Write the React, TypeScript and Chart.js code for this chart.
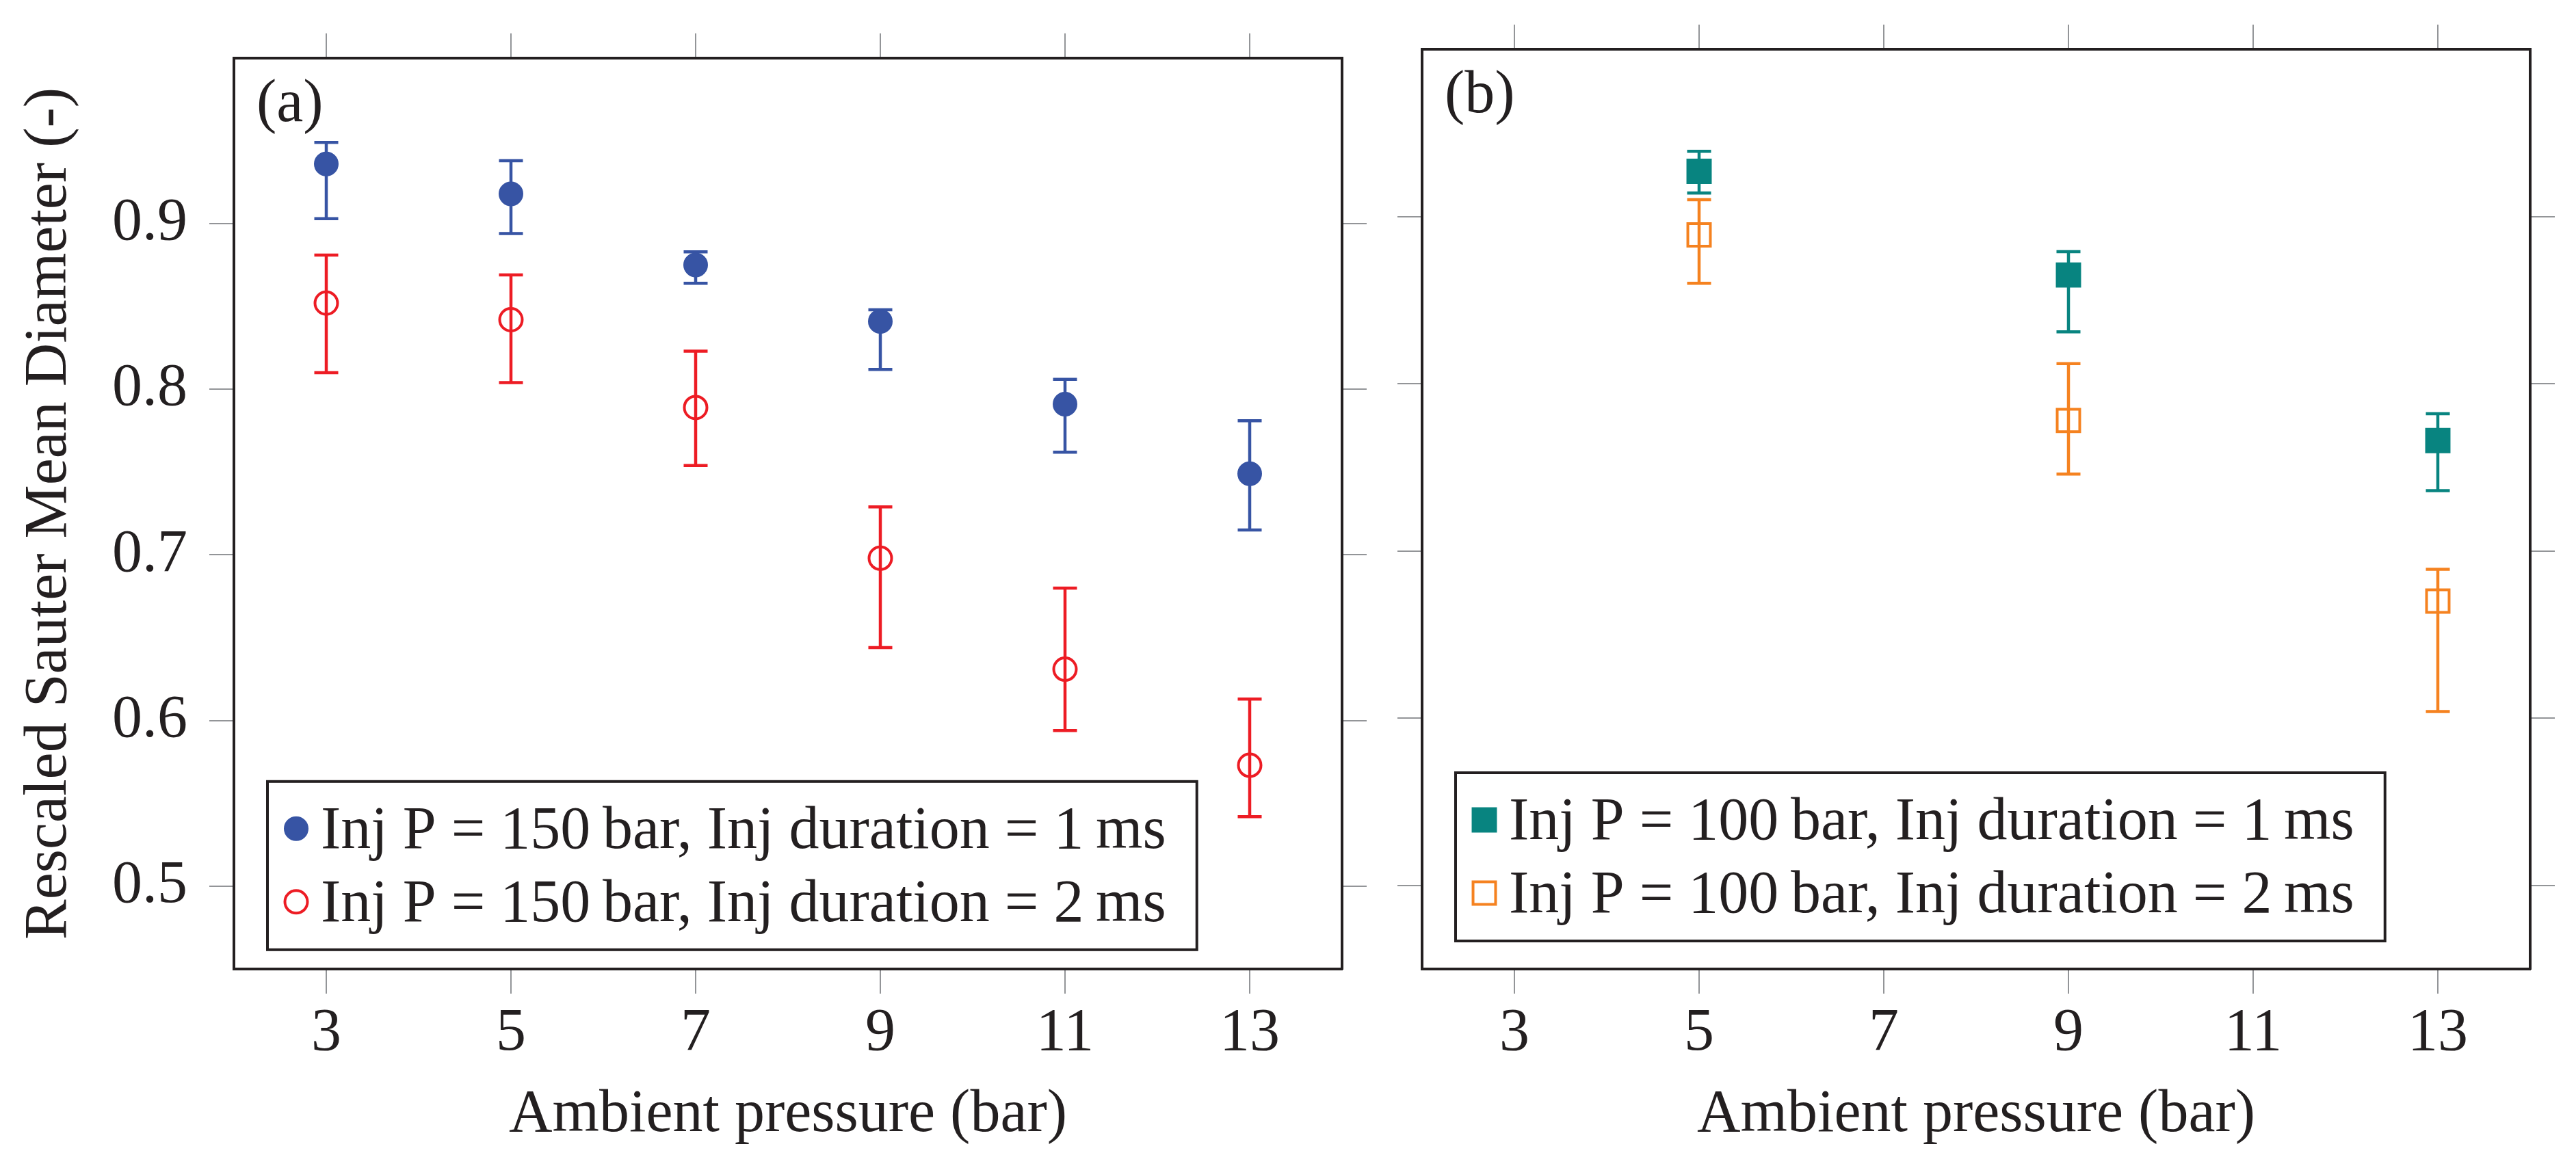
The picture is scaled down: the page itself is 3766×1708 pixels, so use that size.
import { useEffect, useRef } from 'react';
import { Chart, registerables } from 'chart.js';

Chart.register(...registerables);

// ambient pressure (bar)
const pressuresA = [3, 5, 7, 9, 11, 13];
const pressuresB = [5, 9, 13];

// panel (a): Inj P = 150 bar
const smd150_1ms = [0.936, 0.918, 0.875, 0.841, 0.791, 0.749];
const smd150_1msHi = [0.949, 0.938, 0.883, 0.848, 0.806, 0.781];
const smd150_1msLo = [0.903, 0.894, 0.864, 0.812, 0.762, 0.715];
const smd150_2ms = [0.852, 0.842, 0.789, 0.698, 0.631, 0.573];
const smd150_2msHi = [0.881, 0.869, 0.823, 0.729, 0.680, 0.613];
const smd150_2msLo = [0.810, 0.804, 0.754, 0.644, 0.594, 0.542];

// panel (b): Inj P = 100 bar
const smd100_1ms = [0.927, 0.865, 0.766];
const smd100_1msHi = [0.939, 0.879, 0.782];
const smd100_1msLo = [0.914, 0.831, 0.736];
const smd100_2ms = [0.889, 0.778, 0.670];
const smd100_2msHi = [0.910, 0.812, 0.689];
const smd100_2msLo = [0.860, 0.746, 0.604];

const xTicks = [3, 5, 7, 9, 11, 13];
const yTicks = [0.5, 0.6, 0.7, 0.8, 0.9];

const labelsA = [
  'Inj P = 150\u2009bar, Inj duration = 1\u2009ms',
  'Inj P = 150\u2009bar, Inj duration = 2\u2009ms',
];
const labelsB = [
  'Inj P = 100\u2009bar, Inj duration = 1\u2009ms',
  'Inj P = 100\u2009bar, Inj duration = 2\u2009ms',
];

const FONT = '"Liberation Serif", "DejaVu Serif", serif';
const FS = 88;
const INK = '#231f20';
const TICK = '#939598';
const BLUE = '#3754a4';
const RED = '#ed1c24';
const TEAL = '#088480';
const ORANGE = '#f58220';

const toPoints = (xs: number[], ys: number[]) => xs.map((x, i) => ({ x, y: ys[i] }));

const errorBars = {
  id: 'errorBars',
  beforeDatasetsDraw(chart: any) {
    const { ctx } = chart;
    const yScale = chart.scales.y;
    chart.data.datasets.forEach((ds: any, i: number) => {
      const meta = chart.getDatasetMeta(i);
      ctx.save();
      ctx.strokeStyle = ds.borderColor;
      ctx.lineWidth = 4.5;
      meta.data.forEach((pt: any, j: number) => {
        const top = yScale.getPixelForValue(ds.errHi[j]);
        const bot = yScale.getPixelForValue(ds.errLo[j]);
        ctx.beginPath();
        ctx.moveTo(pt.x, top);
        ctx.lineTo(pt.x, bot);
        ctx.moveTo(pt.x - 17.5, top);
        ctx.lineTo(pt.x + 17.5, top);
        ctx.moveTo(pt.x - 17.5, bot);
        ctx.lineTo(pt.x + 17.5, bot);
        ctx.stroke();
      });
      ctx.restore();
    });
  },
};

function drawMarker(ctx: CanvasRenderingContext2D, ds: any, x: number, y: number) {
  const r = ds.pointRadius;
  ctx.beginPath();
  if (ds.pointStyle === 'rect') {
    const h = r * Math.SQRT1_2;
    ctx.rect(x - h, y - h, 2 * h, 2 * h);
  } else {
    ctx.arc(x, y, r, 0, Math.PI * 2);
  }
  ctx.fillStyle = ds.backgroundColor;
  ctx.fill();
  ctx.lineWidth = ds.pointBorderWidth;
  ctx.strokeStyle = ds.borderColor;
  ctx.stroke();
}

const makeDecor = (panel: string) => ({
  id: 'decor',
  afterDatasetsDraw(chart: any) {
    const { ctx, chartArea } = chart;
    ctx.save();
    ctx.font = `${FS}px ${FONT}`;
    ctx.fillStyle = INK;
    ctx.textBaseline = 'alphabetic';
    ctx.textAlign = 'left';
    ctx.fillText(panel, chartArea.left + 33, chartArea.top + 92);

    // legend box, bottom left
    const sets = chart.data.datasets;
    const textW = Math.max(...sets.map((d: any) => ctx.measureText(d.label).width));
    const bx = chartArea.left + 49;
    const by = chartArea.top + 1058;
    const bw = 78 + textW + 45;
    const bh = 246;
    ctx.fillStyle = '#ffffff';
    ctx.fillRect(bx, by, bw, bh);
    ctx.lineWidth = 4;
    ctx.strokeStyle = INK;
    ctx.strokeRect(bx, by, bw, bh);
    sets.forEach((d: any, i: number) => {
      const cy = by + 69 + i * 107;
      drawMarker(ctx, d, bx + 42, cy);
      ctx.fillStyle = INK;
      ctx.fillText(d.label, bx + 78, cy + 28);
    });
    ctx.restore();
  },
});

const gridOpts = { drawOnChartArea: false, tickLength: 36, color: TICK, lineWidth: 2 };
const borderOpts = { display: true, color: INK, width: 4 };

function buildScales(sizes: { left: number; right: number; top: number; bottom: number }, showY: boolean) {
  const setX = (s: any) => {
    s.ticks = xTicks.map((v) => ({ value: v }));
  };
  const setY = (s: any) => {
    s.ticks = yTicks.map((v) => ({ value: v }));
  };
  return {
    x: {
      type: 'linear',
      position: 'bottom',
      min: 2,
      max: 14,
      afterBuildTicks: setX,
      afterFit: (s: any) => {
        s.height = sizes.bottom;
      },
      grid: gridOpts,
      border: borderOpts,
      ticks: {
        padding: 6,
        maxRotation: 0,
        autoSkip: false,
        color: INK,
        font: { size: FS },
        callback: (v: number) => String(v),
      },
      title: {
        display: true,
        text: 'Ambient pressure (bar)',
        color: INK,
        font: { size: FS },
        padding: { top: 0, bottom: 24 },
      },
    },
    x2: {
      type: 'linear',
      position: 'top',
      min: 2,
      max: 14,
      afterBuildTicks: setX,
      afterFit: (s: any) => {
        s.height = sizes.top;
      },
      grid: gridOpts,
      border: borderOpts,
      ticks: { display: false },
    },
    y: {
      type: 'linear',
      position: 'left',
      min: 0.45,
      max: 1.0,
      afterBuildTicks: setY,
      afterFit: (s: any) => {
        s.width = sizes.left;
      },
      grid: gridOpts,
      border: borderOpts,
      ticks: {
        display: showY,
        padding: 32,
        color: INK,
        font: { size: FS },
        callback: (v: number) => v.toFixed(1),
      },
      title: {
        display: showY,
        text: 'Rescaled Sauter Mean Diameter (-)',
        color: INK,
        font: { size: FS },
        padding: { top: 20, bottom: 0 },
      },
    },
    y2: {
      type: 'linear',
      position: 'right',
      min: 0.45,
      max: 1.0,
      afterBuildTicks: setY,
      afterFit: (s: any) => {
        s.width = sizes.right;
      },
      grid: gridOpts,
      border: borderOpts,
      ticks: { display: false },
    },
  };
}

function series(label: string, xs: number[], ys: number[], hi: number[], lo: number[], color: string, style: string, filled: boolean) {
  const isRect = style === 'rect';
  return {
    label,
    data: toPoints(xs, ys),
    errHi: hi,
    errLo: lo,
    showLine: false,
    pointStyle: style,
    pointRadius: isRect ? (filled ? 24.7 : 23.3) : filled ? 17 : 16.5,
    pointBorderWidth: filled ? 2 : 4,
    borderColor: color,
    backgroundColor: filled ? color : 'rgba(0,0,0,0)',
    pointBackgroundColor: filled ? color : 'rgba(0,0,0,0)',
    pointBorderColor: color,
  };
}

function Panel({ left, width, panel, datasets, sizes, showY }: any) {
  const ref = useRef<HTMLCanvasElement | null>(null);

  useEffect(() => {
    if (!ref.current) return;
    Chart.defaults.font.family = FONT;
    Chart.defaults.color = INK;
    const chart = new Chart(ref.current, {
      type: 'scatter',
      data: { datasets },
      options: {
        animation: false,
        responsive: false,
        devicePixelRatio: 1,
        layout: { padding: 0 },
        plugins: { legend: { display: false }, tooltip: { enabled: false }, title: { display: false } },
        scales: buildScales(sizes, showY) as any,
      },
      plugins: [errorBars, makeDecor(panel)],
    } as any);
    return () => chart.destroy();
  }, []);

  return (
    <canvas
      ref={ref}
      width={width}
      height={1708}
      style={{ position: 'absolute', left, top: 0, width, height: 1708 }}
    />
  );
}

export default function App() {
  useEffect(() => {
    document.body.style.margin = '0';
  }, []);

  const dsA = [
    series(labelsA[0], pressuresA, smd150_1ms, smd150_1msHi, smd150_1msLo, BLUE, 'circle', true),
    series(labelsA[1], pressuresA, smd150_2ms, smd150_2msHi, smd150_2msLo, RED, 'circle', false),
  ];
  const dsB = [
    series(labelsB[0], pressuresB, smd100_1ms, smd100_1msHi, smd100_1msLo, TEAL, 'rect', true),
    series(labelsB[1], pressuresB, smd100_2ms, smd100_2msHi, smd100_2msLo, ORANGE, 'rect', false),
  ];

  return (
    <div style={{ position: 'fixed', left: 0, top: 0, width: 3766, height: 1708, background: '#fff', overflow: 'hidden' }}>
      <Panel left={0} width={2010} panel="(a)" datasets={dsA} sizes={{ left: 342, right: 48, top: 72, bottom: 291 }} showY />
      <Panel left={2010} width={1756} panel="(b)" datasets={dsB} sizes={{ left: 69, right: 67, top: 72, bottom: 291 }} showY={false} />
    </div>
  );
}
